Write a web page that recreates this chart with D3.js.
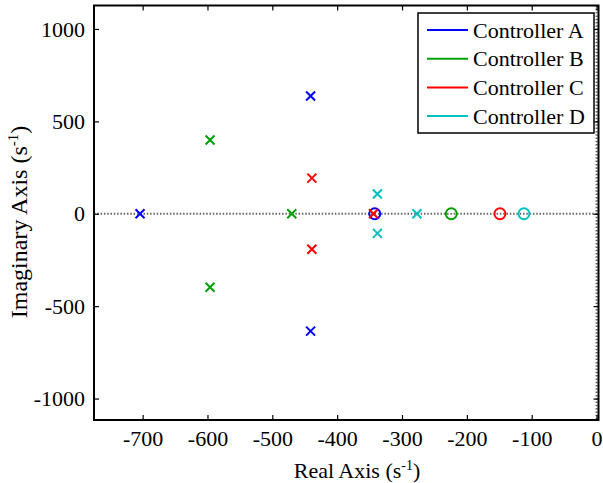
<!DOCTYPE html>
<html>
<head>
<meta charset="utf-8">
<script src="https://cdn.jsdelivr.net/npm/d3@7"></script>
</head>
<body style="margin:0">
<svg width="603" height="483"></svg>
<script>
// pole / zero data
const controllers = ['Controller A', 'Controller B', 'Controller C', 'Controller D'];
const colors = ['#0000ff', '#00a000', '#ff0000', '#00bfbf'];
const polesRe = [[-704, -441, -441], [-596, -596, -470], [-439, -439, -344], [-338, -338, -277]];
const polesIm = [[0, 637, -635], [399, -398, 0], [193, -192, 0], [107, -106, 0]];
const zerosRe = [[-342], [-224], [-149], [-112]];
const zerosIm = [[0], [0], [0], [0]];
const xTicks = [-700, -600, -500, -400, -300, -200, -100, 0];
const yTicks = [-1000, -500, 0, 500, 1000];

const fontName = "'Liberation Serif', 'Times New Roman', Tinos, serif";
const svg = d3.select('svg');
const plotL = 94, plotR = 598.5, plotT = 5.5, plotB = 420;

const x = d3.scaleLinear().domain([-775, 3]).range([plotL, plotR]);
const y = d3.scaleLinear().domain([-1116, 1127]).range([plotB, plotT]);

function serifText(sel, size) {
  sel.style('font-family', fontName, 'important')
    .style('font-size', size + 'px', 'important');
  return sel;
}

// dotted zero lines
svg.append('line')
  .attr('x1', plotL).attr('x2', plotR).attr('y1', y(0)).attr('y2', y(0))
  .attr('stroke', '#666').attr('stroke-width', 2).attr('stroke-dasharray', '1.5,1.8');
svg.append('line')
  .attr('x1', x(0)).attr('x2', x(0)).attr('y1', plotT).attr('y2', plotB)
  .attr('stroke', '#666').attr('stroke-width', 2).attr('stroke-dasharray', '1.5,1.8');

// axes, ticks inward on all four sides
const tickSize = 5;
const plain = function(d) { return String(d); };
const gx = svg.append('g').attr('transform', 'translate(0,' + plotB + ')')
  .call(d3.axisBottom(x).tickValues(xTicks).tickFormat(plain).tickSizeInner(-tickSize).tickSizeOuter(0).tickPadding(10));
const gx2 = svg.append('g').attr('transform', 'translate(0,' + plotT + ')')
  .call(d3.axisTop(x).tickValues(xTicks).tickSizeInner(-tickSize).tickSizeOuter(0).tickFormat(''));
const gy = svg.append('g').attr('transform', 'translate(' + plotL + ',0)')
  .call(d3.axisLeft(y).tickValues(yTicks).tickFormat(plain).tickSizeInner(-tickSize).tickSizeOuter(0).tickPadding(9));
const gy2 = svg.append('g').attr('transform', 'translate(' + plotR + ',0)')
  .call(d3.axisRight(y).tickValues(yTicks).tickSizeInner(-tickSize).tickSizeOuter(0).tickFormat(''));

[gx, gx2, gy, gy2].forEach(function(g) {
  g.attr('font-family', 'Liberation Serif').attr('font-size', 22);
  g.select('.domain').remove();
  g.selectAll('.tick line').attr('stroke', '#000').attr('stroke-width', 1.2);
  serifText(g.selectAll('.tick text'), 22).attr('fill', '#000');
});

// plot frame
svg.append('rect')
  .attr('x', plotL).attr('y', plotT)
  .attr('width', plotR - plotL).attr('height', plotB - plotT)
  .attr('fill', 'none').attr('stroke', '#000').attr('stroke-width', 2);

// markers
const xs = 4.5;
controllers.forEach(function(name, i) {
  const g = svg.append('g').attr('stroke', colors[i]).attr('fill', 'none').attr('stroke-width', 2);
  const poles = polesRe[i].map(function(re, j) { return [re, polesIm[i][j]]; });
  const zeros = zerosRe[i].map(function(re, j) { return [re, zerosIm[i][j]]; });

  g.selectAll('circle').data(zeros).enter().append('circle')
    .attr('cx', function(d) { return x(d[0]); })
    .attr('cy', function(d) { return y(d[1]); })
    .attr('r', 5.5);

  g.selectAll('path').data(poles).enter().append('path')
    .attr('d', function(d) {
      const cx = x(d[0]), cy = y(d[1]);
      return 'M' + (cx - xs) + ',' + (cy - xs) + 'L' + (cx + xs) + ',' + (cy + xs) +
             'M' + (cx - xs) + ',' + (cy + xs) + 'L' + (cx + xs) + ',' + (cy - xs);
    });
});

// legend
const legend = svg.append('g');
legend.append('rect')
  .attr('x', 418).attr('y', 13).attr('width', 176).attr('height', 120)
  .attr('fill', '#fff').attr('stroke', '#000').attr('stroke-width', 1.5);
controllers.forEach(function(name, i) {
  const ly = 30 + i * 28.7;
  legend.append('line')
    .attr('x1', 427).attr('x2', 468).attr('y1', ly).attr('y2', ly)
    .attr('stroke', colors[i]).attr('stroke-width', 2);
  serifText(legend.append('text'), 22)
    .attr('x', 473).attr('y', ly + 7.5)
    .text(name);
});

// axis titles
const xl = serifText(svg.append('text'), 22)
  .attr('x', 357).attr('y', 478)
  .attr('text-anchor', 'middle');
xl.append('tspan').text('Real Axis (s');
xl.append('tspan').attr('dy', -8).style('font-size', '14px', 'important').text('-1');
xl.append('tspan').attr('dy', 8).text(')');

const yl = serifText(svg.append('text'), 24)
  .attr('transform', 'translate(27,222) rotate(-90)')
  .attr('text-anchor', 'middle');
yl.append('tspan').text('Imaginary Axis (s');
yl.append('tspan').attr('dy', -9).style('font-size', '15px', 'important').text('-1');
yl.append('tspan').attr('dy', 9).text(')');
</script>
</body>
</html>
